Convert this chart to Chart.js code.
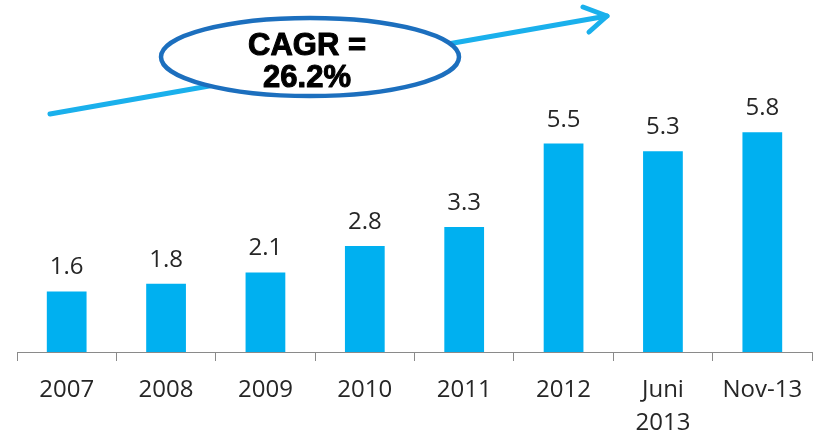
<!DOCTYPE html>
<html lang="en">
<head>
<meta charset="UTF-8">
<title>CAGR chart</title>
<script src="https://cdn.jsdelivr.net/npm/chart.js"></script>
<style>
  html, body { margin: 0; padding: 0; background: #fff; }
  #wrap { width: 817px; height: 434px; }
</style>
</head>
<body>
<div id="wrap"><canvas id="myChart" width="817" height="434"></canvas></div>
<script>
// chart data
const categories = ['2007', '2008', '2009', '2010', '2011', '2012', ['Juni', '2013'], 'Nov-13'];
const values = [1.6, 1.8, 2.1, 2.8, 3.3, 5.5, 5.3, 5.8];
const cagrText = ['CAGR =', '26.2%'];

const barColor = '#00B0F0';
const textColor = '#262626';

// value labels above each bar
const valueLabels = {
    id: 'valueLabels',
    afterDatasetsDraw(chart) {
        const ctx = chart.ctx;
        const meta = chart.getDatasetMeta(0);
        ctx.save();
        ctx.font = '24px "Open Sans"';
        ctx.fillStyle = textColor;
        ctx.textAlign = 'center';
        ctx.textBaseline = 'alphabetic';
        meta.data.forEach((bar, i) => {
            ctx.fillText(values[i].toFixed(1), bar.x, bar.y - 17);
        });
        ctx.restore();
    }
};

// growth arrow + CAGR ellipse
const cagrBadge = {
    id: 'cagrBadge',
    afterDraw(chart) {
        const ctx = chart.ctx;
        ctx.save();
        // arrow
        const x0 = 50, y0 = 114, x1 = 607, y1 = 16;
        ctx.strokeStyle = '#1AB0EC';
        ctx.lineWidth = 5;
        ctx.lineCap = 'round';
        ctx.beginPath();
        ctx.moveTo(x0, y0);
        ctx.lineTo(x1, y1);
        ctx.stroke();
        ctx.lineJoin = 'round';
        ctx.beginPath();
        ctx.moveTo(583, 7);
        ctx.lineTo(x1, y1);
        ctx.lineTo(589, 32);
        ctx.stroke();

        // ellipse
        ctx.beginPath();
        ctx.ellipse(310, 57, 149, 39, 0, 0, Math.PI * 2);
        ctx.fillStyle = '#fff';
        ctx.fill();
        ctx.strokeStyle = '#1C6FBE';
        ctx.lineWidth = 4.5;
        ctx.stroke();

        // text
        ctx.font = 'bold 31px "Liberation Sans"';
        ctx.fillStyle = '#000';
        ctx.strokeStyle = '#000';
        ctx.lineWidth = 1;
        ctx.textAlign = 'center';
        ctx.textBaseline = 'alphabetic';
        ctx.fillText(cagrText[0], 307, 55);
        ctx.strokeText(cagrText[0], 307, 55);
        ctx.fillText(cagrText[1], 307, 87);
        ctx.strokeText(cagrText[1], 307, 87);
        ctx.restore();
    }
};

const ctx = document.getElementById('myChart');
const chart = new Chart(ctx, {
    type: 'bar',
    data: {
        labels: categories,
        datasets: [{
            data: values,
            backgroundColor: barColor,
            borderWidth: 0,
            barPercentage: 0.4,
            categoryPercentage: 1.0
        }]
    },
    options: {
        responsive: false,
        animation: false,
        layout: { padding: { left: 17, right: 5, top: 11, bottom: 0 } },
        plugins: {
            legend: { display: false },
            tooltip: { enabled: false }
        },
        scales: {
            x: {
                offset: true,
                afterFit(scale) { scale.height = 82; },
                grid: {
                    offset: true,
                    drawOnChartArea: false,
                    drawTicks: true,
                    tickLength: 9,
                    color: '#8A8A8A'
                },
                border: { display: true, color: '#8A8A8A', width: 1 },
                ticks: {
                    color: textColor,
                    padding: 12,
                    maxRotation: 0,
                    autoSkip: false,
                    font: { family: '"Open Sans"', size: 24, lineHeight: 1.4 }
                }
            },
            y: {
                display: false,
                min: 0,
                max: 9
            }
        }
    },
    plugins: [valueLabels, cagrBadge]
});
</script>
</body>
</html>
